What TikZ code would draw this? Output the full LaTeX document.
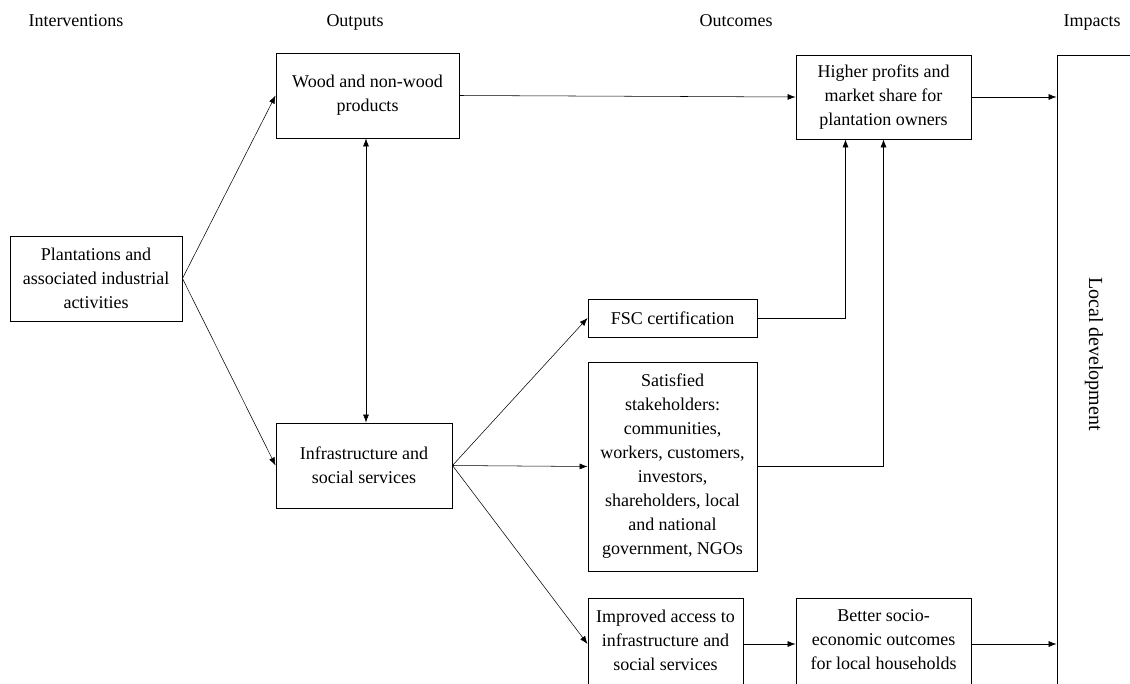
\documentclass[tikz,border=0pt]{standalone}
\usepackage{fontspec}
\setmainfont{Liberation Serif}
\usetikzlibrary{arrows.meta}

\tikzset{
  box/.style={draw, rectangle, align=center, inner sep=0pt, line width=0.7pt},
  link/.style={-{Latex[length=6pt,width=4.5pt]}, draw=black, line width=0.4pt},
  twoway/.style={{Latex[length=6pt,width=4.5pt]}-{Latex[length=6pt,width=4.5pt]}, draw=black, line width=0.4pt},
  heading/.style={anchor=base}
}

\begin{document}
\begin{tikzpicture}[x=0.75pt, y={(0pt,-0.75pt)}, font=\fontsize{13.5}{18}\selectfont]
    \useasboundingbox (0,0) rectangle (1130,684);
    \clip (0,0) rectangle (1130,684);

    % column headings
    \node[heading] (hint) at (76,27) {Interventions};
    \node[heading] (hout) at (355,27) {Outputs};
    \node[heading] (hoc) at (736,27) {Outcomes};
    \node[heading] (himp) at (1092,27) {Impacts};

    % boxes
    \node[box, minimum width=129pt, minimum height=63.75pt] (plant) at (96,278.5) {Plantations and\\associated industrial\\activities};
    \node[box, minimum width=137.25pt, minimum height=63.75pt] (wood) at (367.5,95.5) {Wood and non-wood\\products};
    \node[box, minimum width=132pt, minimum height=63.75pt] (infra) at (364,465.5) {Infrastructure and\\social services};
    \node[box, minimum width=131.25pt, minimum height=63pt] (higher) at (883.5,97) {Higher profits and\\market share for\\plantation owners};
    \node[box, minimum width=126.75pt, minimum height=28.5pt] (fsc) at (672.5,318) {FSC certification};
    \node[box, minimum width=126.75pt, minimum height=156.75pt] (satis) at (672.5,466.5) {Satisfied\\stakeholders:\\communities,\\workers, customers,\\investors,\\shareholders, local\\and national\\government, NGOs};
    \node[box, minimum width=116.25pt, minimum height=69pt, text depth=6pt] (improved) at (665.5,644) {Improved access to\\infrastructure and\\social services};
    \node[box, minimum width=131.25pt, minimum height=69pt, text depth=6pt] (better) at (883.5,644) {Better socio-\\economic outcomes\\for local households};
    \node[box, minimum width=62.25pt, minimum height=483.75pt] (local) at (1098.5,377.5) {};
    \node[rotate=-90, font=\fontsize{15}{18}\selectfont] (localtxt) at (1094,354) {Local development};

    % connectors
    \draw[link] (plant.east) to (wood.west);
    \draw[link] (plant.east) to (infra.west);
    \draw[twoway] (wood.south -| 366,0) to (infra.north -| 366,0);
    \draw[link] (wood.east) to (higher.west);
    \draw[link] (higher.east) to (higher.east -| local.west);
    \draw[link] (infra.east) to (fsc.west);
    \draw[link] (infra.east) to (satis.west);
    \draw[link] (infra.east) to (improved.west);
    \draw[link] (fsc.east) -| ([xshift=-28.5pt]higher.south);
    \draw[link] (satis.east) -| (higher.south);
    \draw[link] (improved.east) to (better.west);
    \draw[link] (better.east) to (better.east -| local.west);
\end{tikzpicture}
\end{document}
